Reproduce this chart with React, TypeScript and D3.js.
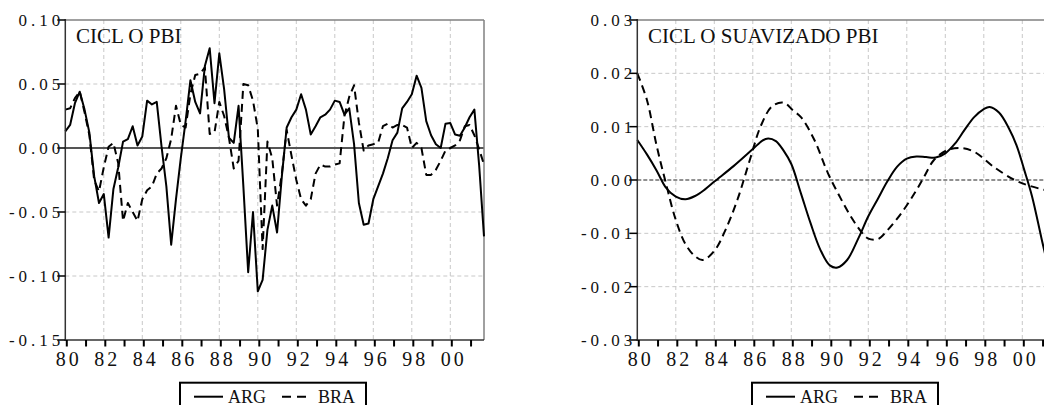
import React from 'react';
import * as d3 from 'd3';

// ---------- DATA ----------
const START_YEAR = 1980;
const X_END = 2001.75;
const YEAR_TICKS = d3.range(1980, 2002);
const YEAR_LABEL_TICKS = [1980, 1982, 1984, 1986, 1988, 1990, 1992, 1994, 1996, 1998, 2000];
const SERIES_NAMES = ['ARG', 'BRA'];

// Quarterly cycle, 1980Q1 - 2001Q4
const ARG_CYCLE = [
  0.013, 0.018, 0.035, 0.044, 0.030, 0.012, -0.022, -0.043, -0.036, -0.070,
  -0.032, -0.015, 0.005, 0.007, 0.017, 0.002, 0.009, 0.037, 0.034, 0.036,
  0.001, -0.030, -0.0755, -0.040, -0.008, 0.021, 0.053, 0.036, 0.027, 0.064,
  0.078, 0.035, 0.074, 0.046, 0.008, 0.004, 0.033, -0.030, -0.097, -0.050,
  -0.112, -0.103, -0.064, -0.045, -0.066, -0.022, 0.016, 0.024, 0.030, 0.042,
  0.030, 0.0105, 0.017, 0.024, 0.026, 0.030, 0.037, 0.036, 0.026, 0.031,
  0.003, -0.043, -0.060, -0.059, -0.040, -0.030, -0.020, -0.008, 0.006, 0.012,
  0.031, 0.036, 0.042, 0.0565, 0.047, 0.021, 0.010, 0.003, 0.000, 0.019,
  0.0195, 0.0105, 0.0095, 0.016, 0.024, 0.030, -0.014, -0.069,
];
const BRA_CYCLE = [
  0.030, 0.031, 0.039, 0.044, 0.028, 0.010, -0.025, -0.034, -0.015, 0.001,
  0.004, -0.012, -0.057, -0.043, -0.050, -0.057, -0.040, -0.033, -0.030, -0.020,
  -0.016, -0.008, 0.007, 0.033, 0.018, 0.016, 0.042, 0.057, 0.058, 0.063,
  0.011, 0.012, 0.036, 0.025, 0.008, -0.016, -0.010, 0.050, 0.049, 0.037,
  0.015, -0.079, 0.005, -0.008, -0.045, -0.020, 0.014, -0.006, -0.025, -0.040,
  -0.045, -0.040, -0.020, -0.013, -0.0145, -0.0145, -0.013, -0.012, 0.025, 0.040,
  0.049, 0.020, -0.002, 0.002, 0.003, 0.004, 0.017, 0.019, 0.016, 0.018,
  0.018, 0.016, 0.000, 0.004, 0.000, -0.021, -0.021, -0.017, -0.010, -0.002,
  0.000, 0.002, 0.006, 0.017, 0.018, 0.010, -0.001, -0.013,
];

// Smoothed cycle (read at irregular dates)
const ARG_SMOOTH_T = [
  1980.0, 1980.5, 1981.0, 1981.5, 1982.0, 1982.5, 1983.0, 1983.5, 1984.0, 1985.0,
  1986.0, 1986.5, 1986.8, 1987.2, 1987.6, 1988.0, 1988.5, 1989.0, 1989.5, 1990.0,
  1990.4, 1990.9, 1991.5, 1992.0, 1992.5, 1993.0, 1993.5, 1994.0, 1994.5, 1995.0,
  1995.5, 1996.0, 1996.5, 1997.0, 1997.5, 1998.0, 1998.3, 1998.8, 1999.3, 1999.7,
  2000.1, 2000.5, 2001.0, 2001.5, 2001.75,
];
const ARG_SMOOTH = [
  0.0075, 0.0048, 0.0018, -0.0015, -0.0031, -0.0036, -0.0030, -0.0018, -0.0003, 0.0026,
  0.0058, 0.0074, 0.0078, 0.0073, 0.0055, 0.0030, -0.0025, -0.0081, -0.0130, -0.0160,
  -0.0164, -0.0150, -0.0108, -0.0068, -0.0035, -0.0002, 0.0025, 0.0040, 0.0044, 0.0043,
  0.0042, 0.0050, 0.0068, 0.0094, 0.0118, 0.0133, 0.0137, 0.0126, 0.0097, 0.0065,
  0.0019, -0.0030, -0.0110, -0.0190, -0.0240,
];
const BRA_SMOOTH_T = [
  1980.0, 1980.5, 1981.0, 1981.5, 1982.0, 1982.5, 1983.0, 1983.4, 1984.0, 1984.6,
  1985.2, 1985.9, 1986.4, 1987.0, 1987.6, 1988.1, 1988.5, 1989.2, 1989.9, 1990.5,
  1991.1, 1991.7, 1992.0, 1992.5, 1993.0, 1993.7, 1994.4, 1994.9, 1995.4, 1996.1,
  1996.8, 1997.5, 1998.5, 1999.6, 2000.3, 2001.2, 2001.75,
];
const BRA_SMOOTH = [
  0.0200, 0.0150, 0.0065, -0.0008, -0.0075, -0.0120, -0.0143, -0.0150, -0.0133, -0.0092,
  -0.0037, 0.0044, 0.0100, 0.0138, 0.0145, 0.0130, 0.0118, 0.0075, 0.0013, -0.0030,
  -0.0069, -0.0100, -0.0110, -0.0111, -0.0094, -0.0063, -0.0025, 0.0006, 0.0037, 0.0056,
  0.0060, 0.0053, 0.0025, 0.0000, -0.0010, -0.0019, -0.0023,
];

const LEFT_Y_TICKS = [0.1, 0.05, 0.0, -0.05, -0.1, -0.15];
const RIGHT_Y_TICKS = [0.03, 0.02, 0.01, 0.0, -0.01, -0.02, -0.03];

// ---------- STYLE ----------
const FONT = "'Liberation Serif', 'Times New Roman', serif";
const TOP = 20;
const BOTTOM = 340;
const GRID = '#c8c8c8';

type Pt = [number, number];

function fmt(v: number) {
  const s = Math.abs(v).toFixed(2);
  return (v < -1e-9 ? '-' : '') + s;
}

function Panel(props: {
  x0: number; x1: number; yDomain: [number, number]; yTicks: number[]; title: string;
  arg: Pt[]; bra: Pt[]; smooth: boolean; zeroDashed: boolean; drawRight: boolean;
}) {
  const { x0, x1, yDomain, yTicks, title, arg, bra, smooth, zeroDashed, drawRight } = props;
  const x = d3.scaleLinear().domain([START_YEAR, X_END]).range([x0, x1]);
  const y = d3.scaleLinear().domain(yDomain).range([BOTTOM, TOP]);
  const line = d3.line<Pt>().x((d) => x(d[0])).y((d) => y(d[1]));
  if (smooth) line.curve(d3.curveCatmullRom.alpha(0.5));
  const legendX = x0 + 114.7;
  const legendY = 382.7;
  return (
    <g style={{ fontFamily: FONT }}>
      {/* grid */}
      {YEAR_LABEL_TICKS.filter((t) => t !== START_YEAR).map((t) => (
        <line key={'vg' + t} x1={x(t)} x2={x(t)} y1={TOP} y2={BOTTOM} stroke={GRID} strokeWidth={1} strokeDasharray="4,3" />
      ))}
      {yTicks.filter((v) => v !== yDomain[0] && v !== yDomain[1] && v !== 0).map((v) => (
        <line key={'hg' + v} x1={x0} x2={x1} y1={y(v)} y2={y(v)} stroke={GRID} strokeWidth={1} strokeDasharray="4,3" />
      ))}
      {/* zero line */}
      {zeroDashed ? (
        <line x1={x0} x2={x1} y1={y(0)} y2={y(0)} stroke="#222" strokeWidth={1} strokeDasharray="4,2" />
      ) : (
        <line x1={x0} x2={x1} y1={y(0)} y2={y(0)} stroke="#555" strokeWidth={2} />
      )}
      {/* frame */}
      <line x1={x0} x2={x1} y1={TOP} y2={TOP} stroke="#808080" strokeWidth={1.5} />
      {drawRight && <line x1={x1} x2={x1} y1={TOP} y2={BOTTOM} stroke="#808080" strokeWidth={1.5} />}
      {/* series */}
      <path d={line(arg) || ''} fill="none" stroke="#000" strokeWidth={2} strokeLinejoin="round" />
      <path d={line(bra) || ''} fill="none" stroke="#000" strokeWidth={2} strokeDasharray="8,5" strokeLinejoin="round" />
      {/* axes */}
      <line x1={x0} x2={x0} y1={TOP - 1} y2={BOTTOM + 1} stroke="#333" strokeWidth={1.5} />
      <line x1={x0} x2={x1} y1={BOTTOM} y2={BOTTOM} stroke="#333" strokeWidth={1.5} />
      {yTicks.map((v) => (
        <g key={'yt' + v}>
          <line x1={x0 - 8} x2={x0} y1={y(v)} y2={y(v)} stroke="#000" strokeWidth={1.5} />
          <text x={x0 - 1} y={y(v) + 6} textAnchor="end" fontSize={17} style={{ letterSpacing: '4px', fontFamily: FONT }} fill="#111">
            {fmt(v)}
          </text>
        </g>
      ))}
      {YEAR_TICKS.map((t) => (
        <line key={'xt' + t} x1={x(t) + 1.5} x2={x(t) + 1.5} y1={BOTTOM} y2={BOTTOM + 6.5} stroke="#000" strokeWidth={2} />
      ))}
      {YEAR_LABEL_TICKS.map((t) => (
        <text key={'xl' + t} x={x(t) + 3.5} y={365.5} textAnchor="middle" fontSize={20} style={{ letterSpacing: '3px', fontFamily: FONT }} fill="#111">
          {String(t % 100).padStart(2, '0')}
        </text>
      ))}
      {/* title */}
      <text x={x0 + 10.7} y={42.7} fontSize={21} style={{ fontFamily: FONT }} fill="#111">{title}</text>
      {/* legend */}
      <rect x={legendX} y={legendY} width={186} height={40} fill="#fff" stroke="#000" strokeWidth={2} />
      <line x1={legendX + 14} x2={legendX + 43} y1={396.7} y2={396.7} stroke="#000" strokeWidth={2} />
      <text x={legendX + 48} y={402.5} fontSize={18} style={{ fontFamily: FONT }} fill="#111">{SERIES_NAMES[0]}</text>
      <line x1={legendX + 102} x2={legendX + 128} y1={396.7} y2={396.7} stroke="#000" strokeWidth={2} strokeDasharray="9,6" />
      <text x={legendX + 138} y={402.5} fontSize={18} style={{ fontFamily: FONT }} fill="#111">{SERIES_NAMES[1]}</text>
    </g>
  );
}

export default function App() {
  const tq = (i: number) => START_YEAR + i / 4;
  const argCycle: Pt[] = ARG_CYCLE.map((v, i) => [tq(i), v]);
  const braCycle: Pt[] = BRA_CYCLE.map((v, i) => [tq(i), v]);
  const argSmooth: Pt[] = ARG_SMOOTH.map((v, i) => [ARG_SMOOTH_T[i], v]);
  const braSmooth: Pt[] = BRA_SMOOTH.map((v, i) => [BRA_SMOOTH_T[i], v]);
  return (
    <svg width={1044} height={405} style={{ position: 'absolute', left: 0, top: 0, background: '#fff' }}>
      <rect x={0} y={0} width={1044} height={405} fill="#fff" />
      <Panel x0={65.3} x1={484} yDomain={[-0.15, 0.1]} yTicks={LEFT_Y_TICKS} title="CICL O PBI"
        arg={argCycle} bra={braCycle} smooth={false} zeroDashed={false} drawRight={true} />
      <Panel x0={637.3} x1={1056} yDomain={[-0.03, 0.03]} yTicks={RIGHT_Y_TICKS} title="CICL O SUAVIZADO PBI"
        arg={argSmooth} bra={braSmooth} smooth={true} zeroDashed={true} drawRight={false} />
    </svg>
  );
}
